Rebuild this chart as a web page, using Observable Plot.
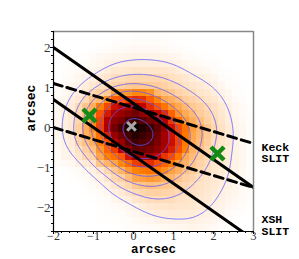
<!DOCTYPE html>
<html><head><meta charset="utf-8">
<script src="https://cdn.jsdelivr.net/npm/d3@7"></script>
<script src="https://cdn.jsdelivr.net/npm/@observablehq/plot@0.6"></script>
<style>body{margin:0;background:#fff}</style>
</head><body><div id="chart"></div>
<script>
// grid of the source density (darkness 0..1)
const gridX = [-2, -1.5, -1, -0.5, 0, 0.5, 1, 1.5, 2, 2.5, 3];
const gridY = [2.5, 2, 1.5, 1, 0.5, 0, -0.5, -1, -1.5, -2, -2.5, -3];
const density = [
  [0, 0, 0, 0, 0, 0, 0, 0, 0, 0, 0],
  [0, 0, 0, 0.005, 0.01, 0.01, 0.005, 0, 0, 0, 0],
  [0, 0.005, 0.015, 0.035, 0.04, 0.04, 0.035, 0.015, 0.005, 0, 0],
  [0, 0.02, 0.05, 0.09, 0.12, 0.11, 0.08, 0.05, 0.03, 0.005, 0],
  [0.005, 0.045, 0.17, 0.48, 0.62, 0.38, 0.2, 0.11, 0.06, 0.018, 0],
  [0.01, 0.05, 0.23, 0.7, 1.0, 0.82, 0.42, 0.18, 0.08, 0.025, 0],
  [0.003, 0.04, 0.13, 0.4, 0.8, 0.72, 0.45, 0.15, 0.06, 0.027, 0],
  [0, 0.005, 0.035, 0.12, 0.27, 0.32, 0.2, 0.1, 0.05, 0.027, 0],
  [0, 0, 0.005, 0.035, 0.08, 0.11, 0.09, 0.06, 0.04, 0.02, 0],
  [0, 0, 0, 0.005, 0.02, 0.045, 0.05, 0.045, 0.028, 0.01, 0],
  [0, 0, 0, 0, 0.005, 0.01, 0.015, 0.02, 0.01, 0, 0],
  [0, 0, 0, 0, 0, 0, 0, 0, 0, 0, 0]
];
const contourLevels = [0.03, 0.07, 0.13, 0.22, 0.35, 0.5, 0.72];

// slits: y = intercept + slope * x
const keckSlope = -0.3;
const keckIntercepts = [0.5, -0.6];
const xshSlope = -0.7;
const xshIntercepts = [0.6, -0.7];

const greenX = [-1.1, 2.1];
const greenY = [0.3, -0.65];
const centerX = [-0.05];
const centerY = [0.03];

const xDomain = [-2, 3];
const yDomain = [-2.6, 2.4];
const majorX = [-2, -1, 0, 1, 2, 3];
const majorY = [-2, -1, 0, 1, 2];
const minorX = d3.range(-2, 3.0001, 0.2);
const minorY = d3.range(-2.6, 2.4001, 0.2);

const grid = [];
gridY.forEach((y, i) => gridX.forEach((x, j) => grid.push({x, y, v: density[i][j]})));

const slitLine = (slope, intercepts) => intercepts.flatMap((b, k) =>
  xDomain.map(x => ({x, y: b + slope * x, k})));
const keck = slitLine(keckSlope, keckIntercepts);
const xsh = slitLine(xshSlope, xshIntercepts);
const greens = greenX.map((x, i) => ({x, y: greenY[i]}));
const centers = centerX.map((x, i) => ({x, y: centerY[i]}));

const clamp = v => Math.max(0, Math.min(1, v));
const gistHeatR = t => {
  const u = 1 - t;
  return d3.rgb(255 * clamp(1.5 * u), 255 * clamp(2 * u - 1), 255 * clamp(4 * u - 3)).toString();
};

const serif = "Liberation Serif, DejaVu Serif, serif";
const mono = "Liberation Mono, DejaVu Sans Mono, monospace";
const fmt = d => d3.format("")(d).replace("-", "\u2212");

const chart = Plot.plot({
  width: 299,
  height: 259,
  marginLeft: 53,
  marginRight: 46,
  marginTop: 31,
  marginBottom: 28,
  x: {domain: xDomain, label: null},
  y: {domain: yDomain, label: null},
  color: {type: "linear", domain: [0, 1], interpolate: gistHeatR},
  marks: [
    Plot.raster(grid, {x: "x", y: "y", fill: "v", interpolate: "barycentric", pixelSize: 200 / 28, imageRendering: "pixelated"}),
    Plot.contour(grid, {x: "x", y: "y", value: "v", thresholds: contourLevels, interpolate: "barycentric", blur: 4, fill: "none", stroke: "#5a5aff", strokeWidth: 0.8}),
    Plot.line(xsh, {x: "x", y: "y", z: "k", stroke: "black", strokeWidth: 3, clip: true}),
    Plot.line(keck, {x: "x", y: "y", z: "k", stroke: "black", strokeWidth: 3, strokeDasharray: "9,5", clip: true}),
    Plot.dot(greens, {x: "x", y: "y", symbol: "times", r: 6, stroke: "#138a13", strokeWidth: 4.5}),
    Plot.dot(centers, {x: "x", y: "y", symbol: "times", r: 4, stroke: "#a8a8a8", strokeWidth: 3}),
    Plot.ruleX([xDomain[1]], {stroke: "#888", strokeWidth: 1.5}),
    Plot.ruleY([yDomain[1]], {stroke: "#888", strokeWidth: 1.5}),
    Plot.ruleX([xDomain[0]], {stroke: "black", strokeWidth: 1.2}),
    Plot.ruleY([yDomain[0]], {stroke: "black", strokeWidth: 1.2}),
    Plot.axisX(minorX, {tickSize: 2, text: null, label: null, stroke: "black"}),
    Plot.axisY(minorY, {tickSize: 2, text: null, label: null, stroke: "black"}),
    Plot.axisX(majorX, {tickSize: 3, tickPadding: -3, fontFamily: serif, fontSize: 12, fill: "#333", label: null, tickFormat: fmt}),
    Plot.axisY(majorY, {tickSize: 3, tickPadding: 0, fontFamily: serif, fontSize: 13, fill: "#333", label: null, tickFormat: fmt}),
    Plot.text(["arcsec"], {frameAnchor: "bottom", dy: 21, fontFamily: mono, fontWeight: "bold", fontSize: 12.5, fill: "black"}),
    Plot.text(["arcsec"], {frameAnchor: "left", dx: -23, rotate: -90, fontFamily: mono, fontWeight: "bold", fontSize: 13, fill: "black"}),
    Plot.text(["Keck\nSLIT"], {frameAnchor: "right", dx: 8, dy: 21.5, textAnchor: "start", lineHeight: 1, fontFamily: mono, fontWeight: "bold", fontSize: 11.5, fill: "black"}),
    Plot.text(["XSH\nSLIT"], {frameAnchor: "right", dx: 8, dy: 94, textAnchor: "start", lineHeight: 1, fontFamily: mono, fontWeight: "bold", fontSize: 11.5, fill: "black"})
  ]
});
document.getElementById("chart").appendChild(chart);
</script>
</body></html>
